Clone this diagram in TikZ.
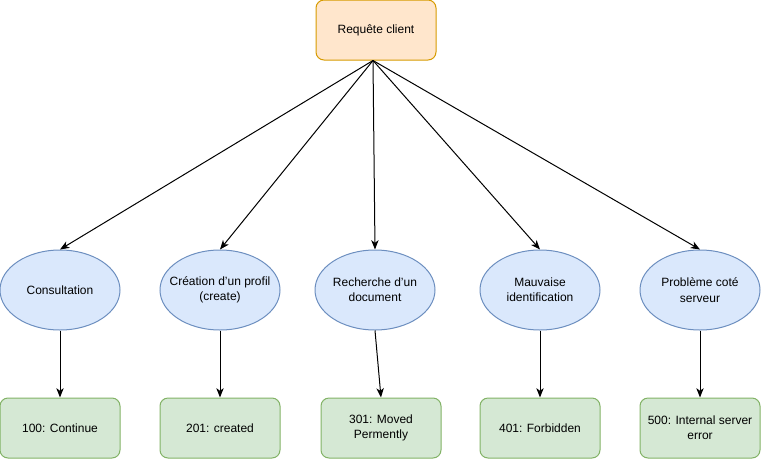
\documentclass[tikz,border=0pt]{standalone}
\usepackage{fontspec}
\setmainfont{Liberation Sans}
\usepackage{tikz}
\usetikzlibrary{shapes.geometric, positioning, arrows.meta}
\definecolor{reqfill}{HTML}{FFE6CC}
\definecolor{reqdraw}{HTML}{D79B00}
\definecolor{casfill}{HTML}{DAE8FC}
\definecolor{casdraw}{HTML}{6C8EBF}
\definecolor{codefill}{HTML}{D5E8D4}
\definecolor{codedraw}{HTML}{82B366}
\tikzset{
every edge/.append style={->}, % every edge gets an arrow
>={Stealth[length=7pt, width=5.5pt, inset=2pt]}, % draw.io like arrow heads
every node/.style={font=\fontsize{9}{11.5}\selectfont, align=center}, % text size of all nodes
requete/.style={rectangle, rounded corners=6pt, draw=reqdraw, fill=reqfill, minimum width=90pt, minimum height=45pt}, % the client request
cas/.style={ellipse, draw=casdraw, fill=casfill, inner sep=-12pt, minimum width=90pt, minimum height=60pt}, % the use cases
code/.style={rectangle, rounded corners=6pt, draw=codedraw, fill=codefill, minimum width=90pt, minimum height=45pt}, % the status codes
}
\begin{document}
\begin{tikzpicture}[x=0.75pt, y=-0.75pt, line width=0.75pt]
        \useasboundingbox (0,0) rectangle (761,458);

        \node[cas] (consult) at (60,290) {Consultation};
        \node[cas, right=29.25pt of consult] (creation) {Création d'un profil\\(create)};
        \node[cas, right=25.5pt of creation] (recherche) {Recherche d'un\\document};
        \node[cas, right=33pt of recherche] (ident) {Mauvaise\\identification};
        \node[cas, right=29.25pt of ident] (serveur) {Problème coté\\serveur};
        \node[requete, above=141.75pt of recherche, xshift=0.75pt] (req) {Requête client};

        \node[code, below=50.25pt of consult] (c100) {100: Continue};
        \node[code, below=50.25pt of creation] (c201) {201: created};
        \node[code, below=50.25pt of recherche, xshift=4.5pt] (c301) {301: Moved\\Permently};
        \node[code, below=50.25pt of ident] (c401) {401: Forbidden};
        \node[code, below=50.25pt of serveur] (c500) {500: Internal server\\error};

        \draw ([xshift=-2.25pt]req.south) edge (consult.north)
        ([xshift=-2.25pt]req.south) edge (creation.north)
        ([xshift=-2.25pt]req.south) edge (recherche.north)
        ([xshift=-2.25pt]req.south) edge (ident.north)
        ([xshift=-2.25pt]req.south) edge (serveur.north)
        (consult) edge (c100)
        (creation) edge (c201)
        (recherche.south) edge (c301.north)
        (ident) edge (c401)
        (serveur) edge (c500);
\end{tikzpicture}
\end{document}
